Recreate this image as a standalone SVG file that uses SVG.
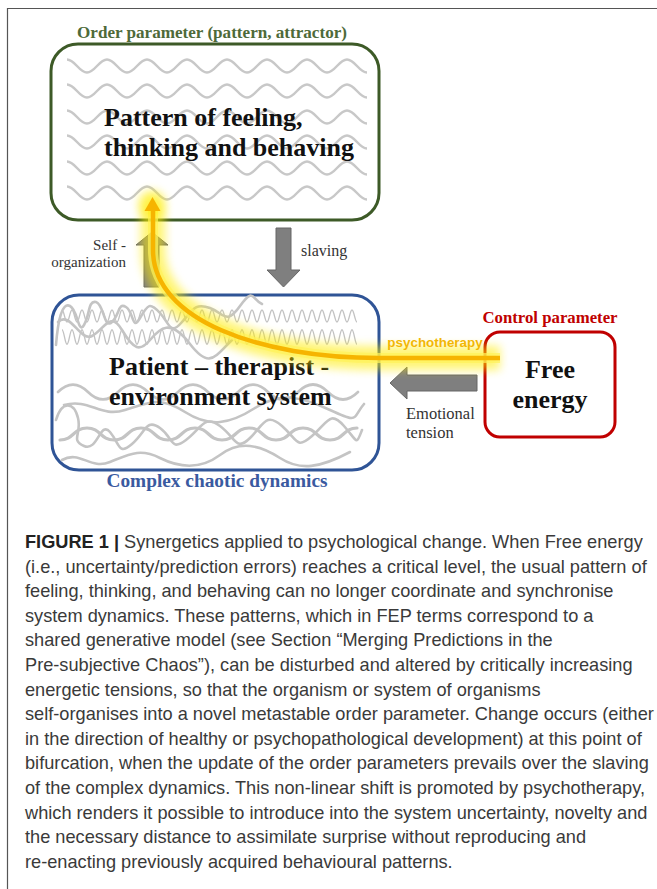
<svg xmlns="http://www.w3.org/2000/svg" width="657" height="889" viewBox="0 0 657 889">
<style>
.sb{font-family:"Liberation Serif","Times New Roman",serif;font-weight:bold}
.sr{font-family:"Liberation Serif","Times New Roman",serif}
.cap{font-family:"Liberation Sans",Arial,sans-serif;font-size:18.2px;fill:#3a3a3a}
.wave{fill:none;stroke:#c8c8c8;stroke-width:2.5}
.fast{fill:none;stroke:#c2c2c2;stroke-width:1.3}
.rope{fill:none;stroke:#c4c4c4;stroke-width:2.6;stroke-linejoin:round;stroke-linecap:round}
.garrow{fill:#7f7f7f;stroke:#666;stroke-width:1}
</style>
<defs>
<filter id="blur" x="-50%" y="-50%" width="200%" height="200%"><feGaussianBlur stdDeviation="5"/></filter>
<path id="w" d="M67,-6.5 c8,0 12,13 20,13 s12,-13 20,-13 s12,13 20,13 s12,-13 20,-13 s12,13 20,13 s12,-13 20,-13 s12,13 20,13 s12,-13 20,-13 s12,13 20,13 s12,-13 20,-13 s12,13 20,13 s12,-13 20,-13 s12,13 20,13 s12,-13 20,-13 s12,13 20,13"/>
<path id="fw" d="M62,-6 c2,0 3,12 5,12 s3,-12 5,-12 s3,12 5,12 s3,-12 5,-12 s3,12 5,12 s3,-12 5,-12 s3,12 5,12 s3,-12 5,-12 s3,12 5,12 s3,-12 5,-12 s3,12 5,12 s3,-12 5,-12 s3,12 5,12 s3,-12 5,-12 s3,12 5,12 s3,-12 5,-12 s3,12 5,12 s3,-12 5,-12 s3,12 5,12 s3,-12 5,-12 s3,12 5,12 s3,-12 5,-12 s3,12 5,12 s3,-12 5,-12 s3,12 5,12 s3,-12 5,-12 s3,12 5,12 s3,-12 5,-12 s3,12 5,12 s3,-12 5,-12 s3,12 5,12 s3,-12 5,-12 s3,12 5,12 s3,-12 5,-12 s3,12 5,12 s3,-12 5,-12 s3,12 5,12 s3,-12 5,-12 s3,12 5,12 s3,-12 5,-12 s3,12 5,12 s3,-12 5,-12 s3,12 5,12 s3,-12 5,-12 s3,12 5,12 s3,-12 5,-12 s3,12 5,12 s3,-12 5,-12 s3,12 5,12 s3,-12 5,-12 s3,12 5,12 s3,-12 5,-12 s3,12 5,12 s3,-12 5,-12 s3,12 5,12 s3,-12 5,-12 s3,12 5,12 s3,-12 5,-12 s3,12 5,12"/>
</defs>
<rect width="657" height="889" fill="#fff"/>
<path d="M7.5,889 V8.5 H657" fill="none" stroke="#555" stroke-width="1.2"/>

<g id="order-parameter">
<text class="sb" x="212" y="38" font-size="17" fill="#4e6a39" text-anchor="middle" textLength="270" lengthAdjust="spacingAndGlyphs">Order parameter (pattern, attractor)</text>
<rect x="51" y="44" width="328" height="176" rx="27" fill="#fff" stroke="#3d5a27" stroke-width="3"/>
<g class="wave">
<use href="#w" y="66"/><use href="#w" y="91"/><use href="#w" y="117"/><use href="#w" y="142"/><use href="#w" y="168"/><use href="#w" y="193"/>
</g>
<text class="sb" x="104" y="126" font-size="26" fill="#111">Pattern of feeling,</text>
<text class="sb" x="104" y="156" font-size="26" fill="#111">thinking and behaving</text>
</g>

<g id="system">
<rect x="52" y="295" width="327" height="175" rx="27" fill="#fff" stroke="#2f5496" stroke-width="3"/>
<g class="fast"><use href="#fw" y="316"/><use href="#fw" y="337" transform="translate(0,337) scale(1,1.2) translate(0,-337)"/></g>
<g class="rope">
<path d="M56,345 C58,320 62,302 70,306 S78,335 84,325 S88,300 96,302 S104,330 112,322 S118,302 126,307 S132,332 140,318 S150,302 160,313 S170,336 182,322 S196,303 210,308 S226,326 240,306 S252,300 262,304"/>
<path d="M58,322 C70,310 80,342 92,336 S110,310 122,330 S140,352 150,340 S170,318 190,344 S215,356 232,340"/>
<path d="M58,392 c10,-10 20,-10 30,0 s20,10 30,0 s20,-10 30,0 s20,10 30,0 s20,-10 30,0 s20,10 30,0 s20,-10 30,0 s20,10 30,0 s20,-10 30,0 s20,10 30,0"/>
<path d="M56,420 C62,400 74,402 78,418 S70,440 84,446 S100,420 110,432 S118,456 132,444 S146,418 160,428 S170,452 186,440 S204,414 220,426 S236,452 250,438 S266,412 282,426 S296,450 312,436 S330,410 344,426 S356,446 362,430"/>
<path d="M60,440 c14,0 13,-12 27,-12 s13,12 27,12 s13,-12 27,-12 s13,12 27,12 s13,-12 27,-12 s13,12 27,12 s13,-12 27,-12 s13,12 27,12 s13,-12 27,-12 s13,12 27,12 s13,-12 27,-12" stroke-width="3.2"/>
<path d="M62,460 C80,450 90,470 110,462 S140,448 160,458 S200,470 220,455 S260,445 280,458 S320,468 350,452"/>
<path d="M64,405 C90,398 100,418 125,410 S160,396 185,412 S230,424 255,408 S300,396 330,410 S352,418 364,404"/>
</g>
<text class="sb" x="109" y="375" font-size="26" fill="#111">Patient – therapist -</text>
<text class="sb" x="109" y="405" font-size="26" fill="#111">environment system</text>
<text class="sb" x="217" y="487" font-size="18.5" fill="#3a5aa0" text-anchor="middle" textLength="221" lengthAdjust="spacingAndGlyphs">Complex chaotic dynamics</text>
</g>

<g id="control-parameter">
<text class="sb" x="550" y="323" font-size="17" fill="#c00000" text-anchor="middle" textLength="135" lengthAdjust="spacingAndGlyphs">Control parameter</text>
<rect x="485" y="332" width="130" height="105" rx="15" fill="#fff" stroke="#c00000" stroke-width="3"/>
<text class="sb" x="550" y="378" font-size="26" fill="#111" text-anchor="middle">Free</text>
<text class="sb" x="550" y="408" font-size="26" fill="#111" text-anchor="middle">energy</text>
</g>

<g id="connectors">
<polygon class="garrow" points="276,228 291,228 291,270 300,270 283.5,287 267,270 276,270"/>
<text class="sr" x="301" y="256" font-size="16" fill="#333">slaving</text>
<polygon class="garrow" points="144,287 159,287 159,245 168,245 152,232 136,245 144,245"/>
<text class="sr" x="126" y="250" font-size="15" fill="#333" text-anchor="end">Self -</text>
<text class="sr" x="126" y="267" font-size="15" fill="#333" text-anchor="end">organization</text>
<polygon class="garrow" points="477,375 477,391 407,391 407,399 390,383 407,367 407,375"/>
<text class="sr" x="406" y="419" font-size="16.5" fill="#333">Emotional</text>
<text class="sr" x="406" y="438" font-size="16.5" fill="#333">tension</text>
<g id="psychotherapy">
<path d="M500,358 L379,358 C260,358 153,320 153,250 L153,208" fill="none" stroke="#ffec00" stroke-width="24" opacity="0.55" filter="url(#blur)"/>
<path d="M500,358 L379,358 C260,358 153,320 153,250 L153,208" fill="none" stroke="#fff25a" stroke-width="10" opacity="0.7"/>
<circle cx="152" cy="204" r="13" fill="#ffee00" opacity="0.7" filter="url(#blur)"/>
<path d="M500,358 L379,358 C260,358 153,320 153,250 L153,209" fill="none" stroke="#f6b400" stroke-width="4.5"/>
<polygon points="144.5,211 160.5,211 152.5,197" fill="#f6b400"/>
<text x="435" y="347" font-family="'Liberation Sans',Arial,sans-serif" font-weight="bold" font-size="13.4" fill="#f2b705" text-anchor="middle">psychotherapy</text>
</g>
</g>

<g id="caption" class="cap">
<text x="25" y="548"><tspan font-weight="bold" fill="#222">FIGURE 1 |</tspan> Synergetics applied to psychological change. When Free energy</text>
<text x="25" y="572.6">(i.e., uncertainty/prediction errors) reaches a critical level, the usual pattern of</text>
<text x="25" y="597.2">feeling, thinking, and behaving can no longer coordinate and synchronise</text>
<text x="25" y="621.8">system dynamics. These patterns, which in FEP terms correspond to a</text>
<text x="25" y="646.4">shared generative model (see Section “Merging Predictions in the</text>
<text x="25" y="671">Pre-subjective Chaos”), can be disturbed and altered by critically increasing</text>
<text x="25" y="695.6">energetic tensions, so that the organism or system of organisms</text>
<text x="25" y="720.2">self-organises into a novel metastable order parameter. Change occurs (either</text>
<text x="25" y="744.8">in the direction of healthy or psychopathological development) at this point of</text>
<text x="25" y="769.4">bifurcation, when the update of the order parameters prevails over the slaving</text>
<text x="25" y="794">of the complex dynamics. This non-linear shift is promoted by psychotherapy,</text>
<text x="25" y="818.6">which renders it possible to introduce into the system uncertainty, novelty and</text>
<text x="25" y="843.2">the necessary distance to assimilate surprise without reproducing and</text>
<text x="25" y="867.8">re-enacting previously acquired behavioural patterns.</text>
</g>
</svg>
